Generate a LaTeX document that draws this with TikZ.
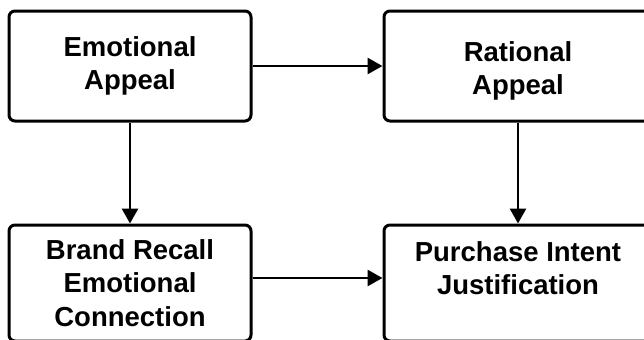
\documentclass[tikz,border=0pt]{standalone}
\usepackage{fontspec}
\setmainfont{Liberation Sans}
\usetikzlibrary{arrows.meta}

\begin{document}
\begin{tikzpicture}[x=0.5pt, y=-0.5pt,
  box/.style={draw, line width=1.5pt, rounded corners=3pt, align=center,
    font=\bfseries\fontsize{13.75}{16.7}\selectfont, inner sep=0pt},
  arr/.style={-{Triangle[length=7.5pt, width=8pt]}, line width=1.4pt}]

\useasboundingbox (0,0) rectangle (644,339);

% Nodes (boxes)
\node[box, minimum width=121pt, minimum height=55pt] (emo) at (130, 66) {Emotional\\Appeal};
\node[box, minimum width=134pt, minimum height=55pt, text height=31.5pt] (rat) at (518, 66) {Rational\\Appeal};
\node[box, minimum width=121pt, minimum height=58pt] (brand) at (130, 283) {Brand Recall\\Emotional\\Connection};
\node[box, minimum width=134pt, minimum height=58pt, text depth=15pt] (purch) at (518, 283) {Purchase Intent\\Justification};

% Arrows
\draw[arr] (emo) -- (rat);
\draw[arr] (emo) -- (brand);
\draw[arr] (rat) -- (purch);
\draw[arr] ([yshift=2.5pt]brand.east) -- ([yshift=2.5pt]purch.west);

\end{tikzpicture}
\end{document}
